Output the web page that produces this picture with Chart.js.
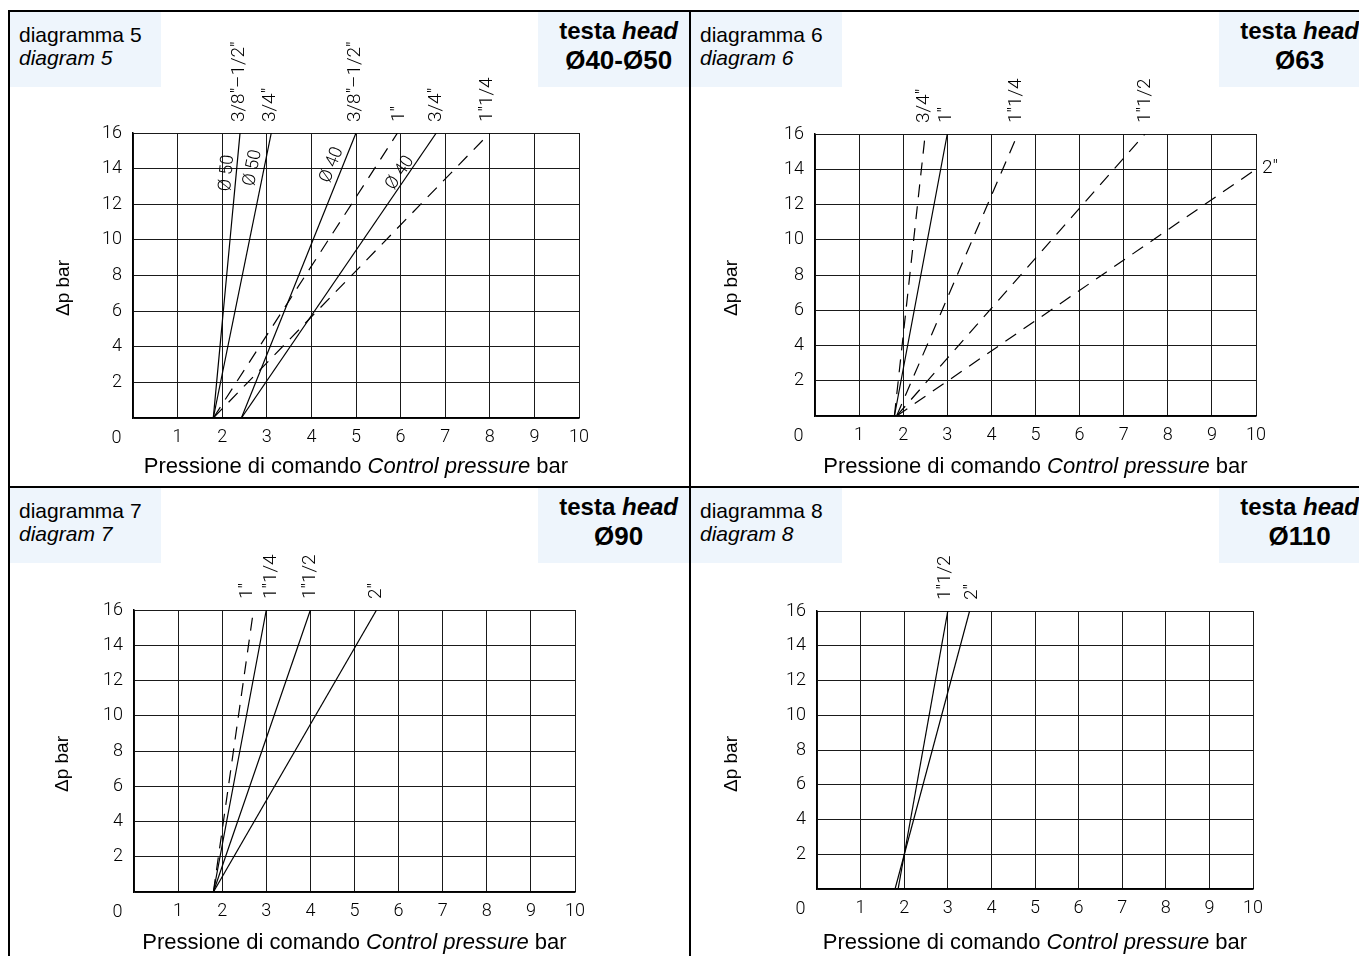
<!DOCTYPE html>
<html>
<head>
<meta charset="utf-8">
<script src="https://cdn.jsdelivr.net/npm/chart.js@4.4.1/dist/chart.umd.min.js"></script>
<style>
html,body{margin:0;padding:0;background:#fff;}
body{width:1359px;height:956px;overflow:hidden;position:relative;font-family:"Liberation Sans",Arimo,Arial,sans-serif;color:#000;}
.rule{position:absolute;background:#000;}
.panel{position:absolute;width:679px;height:474px;}
.panel canvas{position:absolute;left:0;top:0;}
.hl{position:absolute;left:0;top:0;width:151px;height:75px;background:#eef5fc;}
.hl div{position:absolute;left:9px;font-size:21px;line-height:23px;white-space:nowrap;}
.hr{position:absolute;left:528px;top:0;width:151px;height:75px;background:#eef5fc;}
.hr .blk{position:absolute;right:11px;top:5px;text-align:center;font-weight:bold;white-space:nowrap;}
.hr .a{font-size:24px;line-height:27px;}
.hr .b{font-size:26px;line-height:30px;margin-top:1px;}
.xt{position:absolute;font-size:22px;line-height:24px;white-space:nowrap;transform:translate(-50%,-50%);}
.yt{position:absolute;font-size:19px;line-height:22px;white-space:nowrap;transform:translate(-50%,-50%) rotate(-90deg);}
</style>
</head>
<body>
<div class="rule" style="left:8px;top:10px;width:1351px;height:2px;"></div>
<div class="rule" style="left:8px;top:10px;width:2px;height:946px;"></div>
<div class="rule" style="left:689px;top:10px;width:2px;height:946px;"></div>
<div class="rule" style="left:8px;top:486px;width:1351px;height:2px;"></div>

<div id="p5" class="panel" style="left:10px;top:12px;"><canvas id="c5" width="679" height="474"></canvas>
  <div class="hl"><div style="top:11px">diagramma 5</div><div style="top:34px"><i>diagram 5</i></div></div>
  <div class="hr"><div class="blk"><div class="a">testa <i>head</i></div><div class="b">Ø40-Ø50</div></div></div>
</div>
<div id="p6" class="panel" style="left:691px;top:12px;"><canvas id="c6" width="679" height="474"></canvas>
  <div class="hl"><div style="top:11px">diagramma 6</div><div style="top:34px"><i>diagram 6</i></div></div>
  <div class="hr"><div class="blk"><div class="a">testa <i>head</i></div><div class="b">Ø63</div></div></div>
</div>
<div id="p7" class="panel" style="left:10px;top:488px;"><canvas id="c7" width="679" height="474"></canvas>
  <div class="hl"><div style="top:11px">diagramma 7</div><div style="top:34px"><i>diagram 7</i></div></div>
  <div class="hr"><div class="blk"><div class="a">testa <i>head</i></div><div class="b">Ø90</div></div></div>
</div>
<div id="p8" class="panel" style="left:691px;top:488px;"><canvas id="c8" width="679" height="474"></canvas>
  <div class="hl"><div style="top:11px">diagramma 8</div><div style="top:34px"><i>diagram 8</i></div></div>
  <div class="hr"><div class="blk"><div class="a">testa <i>head</i></div><div class="b">Ø110</div></div></div>
</div>

<script>
// ---------------- DATA ----------------
const xTicks = [0, 1, 2, 3, 4, 5, 6, 7, 8, 9, 10];        // control pressure, bar
const yTicks = [0, 2, 4, 6, 8, 10, 12, 14, 16];          // Δp, bar
const xTitle = 'Pressione di comando <i>Control pressure</i> bar';
const yTitle = 'Δp bar';

// diagram 5 – head Ø40-Ø50
const d5Labels = ['3/8"–1/2"', '3/4"', '3/8"–1/2"', '1"', '3/4"', '1"1/4'];
const d5Start  = [1.8, 1.8, 2.43, 1.8, 2.43, 1.8];      // control pressure at Δp = 0
const d5End    = [2.4, 3.1, 5.0, 5.93, 6.8, 8.0];       // control pressure at line end
const d5EndDp  = [16, 16, 16, 16, 16, 16];              // Δp at line end
const d5Dashed = [false, false, false, true, false, true];
const d5LabelX = [2.38, 3.08, 4.98, 5.98, 6.8, 7.95];
const d5Heads  = ['Ø 50', 'Ø 50', 'Ø 40', null, 'Ø 40', null];
const d5HeadX  = [2.11, 2.69, 4.46, null, 5.99, null];
const d5HeadY  = [13.75, 14.04, 14.2, null, 13.75, null];

// diagram 6 – head Ø63
const d6Labels = ['3/4"', '1"', '1"1/4', '1"1/2', '2"'];
const d6Start  = [1.8, 1.8, 1.85, 1.85, 1.85];
const d6End    = [2.5, 3.0, 4.6, 7.48, 10];
const d6EndDp  = [16, 16, 16, 16, 14];
const d6Dashed = [true, false, true, true, true];
const d6LabelX = [2.47, 2.97, 4.56, 7.48, null];        // null: label beside the line end

// diagram 7 – head Ø90
const d7Labels = ['1"', '1"1/4', '1"1/2', '2"'];
const d7Start  = [1.8, 1.8, 1.8, 1.8];
const d7End    = [2.71, 3.0, 4.0, 5.5];
const d7EndDp  = [16, 16, 16, 16];
const d7Dashed = [true, false, false, false];
const d7LabelX = [2.56, 3.12, 4.0, 5.5];

// diagram 8 – head Ø110
const d8Labels = ['1"1/2', '2"'];
const d8Start  = [1.86, 1.79];
const d8End    = [3.0, 3.5];
const d8EndDp  = [16, 16];
const d8Dashed = [false, false];
const d8LabelX = [2.95, 3.55];

// ---------------- LAYOUT (panel-relative pixels) ----------------
const layouts = {
  c5: {plot: [123, 121, 569, 406], ytx: 53},
  c6: {plot: [124, 122, 565, 404], ytx: 40},
  c7: {plot: [124, 122, 565, 404], ytx: 52},
  c8: {plot: [126, 123, 562, 401], ytx: 40}
};
const TICK_FONT = {family: 'Roboto, "DejaVu Sans", sans-serif', size: 18, weight: '300'};
const LBL_FONT = '300 19px Roboto, "DejaVu Sans", sans-serif';
const HEAD_FONT = '300 18px Roboto, "DejaVu Sans", sans-serif';

const annotPlugin = {
  id: 'annot',
  afterDatasetsDraw(chart, args, o) {
    const d = o.d;
    const {ctx, chartArea} = chart;
    const xs = chart.scales.x, ys = chart.scales.y;
    ctx.save();
    ctx.fillStyle = '#000';
    // corner "0"
    ctx.font = `${TICK_FONT.weight} ${TICK_FONT.size}px ${TICK_FONT.family}`;
    ctx.textAlign = 'center';
    ctx.textBaseline = 'middle';
    ctx.fillText('0', xs.left - 16.5, chartArea.bottom + 20);
    // size labels
    ctx.font = LBL_FONT;
    d.labels.forEach((t, i) => {
      if (d.labelX[i] == null) {
        ctx.textAlign = 'left';
        ctx.textBaseline = 'middle';
        ctx.fillText(t, xs.getPixelForValue(d.end[i]) + 6, ys.getPixelForValue(d.endDp[i]) - 1);
        return;
      }
      ctx.save();
      ctx.translate(xs.getPixelForValue(d.labelX[i]), chartArea.top - 11);
      ctx.rotate(-Math.PI / 2);
      ctx.textAlign = 'left';
      ctx.textBaseline = 'middle';
      ctx.fillText(t, 0, 0);
      ctx.restore();
    });
    // head diameter labels along lines
    if (d.heads) {
      ctx.font = HEAD_FONT;
      d.heads.forEach((t, i) => {
        if (!t) return;
        const x0 = xs.getPixelForValue(d.start[i]), y0 = ys.getPixelForValue(0);
        const x1 = xs.getPixelForValue(d.end[i]), y1 = ys.getPixelForValue(d.endDp[i]);
        const ang = Math.atan2(y1 - y0, x1 - x0);
        ctx.save();
        ctx.translate(xs.getPixelForValue(d.headX[i]), ys.getPixelForValue(d.headY[i]));
        ctx.rotate(ang);
        ctx.textAlign = 'center';
        ctx.textBaseline = 'middle';
        ctx.fillText(t, 0, 0);
        ctx.restore();
      });
    }
    ctx.restore();
  }
};

function build(id, d) {
  const L = layouts[id];
  const [pl, pt, pr, pb] = L.plot;
  const W = 679, H = 474;
  const datasets = d.labels.map((name, i) => ({
    label: name,
    data: [{x: d.start[i], y: 0}, {x: d.end[i], y: d.endDp[i]}],
    borderColor: '#000',
    borderWidth: 1.2,
    borderDash: d.dashed[i] ? [13, 9] : [],
    pointRadius: 0,
    showLine: true,
    fill: false,
    tension: 0
  }));
  new Chart(document.getElementById(id), {
    type: 'scatter',
    data: {datasets},
    options: {
      responsive: false,
      animation: false,
      events: [],
      layout: {padding: {left: 0, top: pt, right: W - pr, bottom: 0}},
      plugins: {legend: {display: false}, tooltip: {enabled: false}, annot: {d}},
      scales: {
        x: {
          type: 'linear', min: 0, max: 10,
          afterBuildTicks: s => { s.ticks = xTicks.map(v => ({value: v})); },
          afterFit: s => { s.height = H - pb; },
          grid: {color: '#1a1a1a', lineWidth: 1, drawTicks: false},
          border: {display: true, color: '#000', width: 1.5},
          ticks: {padding: 9, color: '#000', font: TICK_FONT, maxRotation: 0,
                  callback: v => (v === 0 ? '' : String(v))}
        },
        y: {
          type: 'linear', min: 0, max: 16,
          afterBuildTicks: s => { s.ticks = yTicks.map(v => ({value: v})); },
          afterFit: s => { s.width = pl; },
          grid: {color: '#1a1a1a', lineWidth: 1, drawTicks: false},
          border: {display: true, color: '#000', width: 1.5},
          ticks: {padding: 11, color: '#000', font: TICK_FONT,
                  callback: v => (v === 0 ? '' : String(v))}
        }
      }
    },
    plugins: [annotPlugin]
  });
  const panel = document.getElementById(id).parentNode;
  const xt = document.createElement('div');
  xt.className = 'xt';
  xt.innerHTML = xTitle;
  xt.style.left = ((pl + pr) / 2) + 'px';
  xt.style.top = '454px';
  panel.appendChild(xt);
  const yt = document.createElement('div');
  yt.className = 'yt';
  yt.textContent = yTitle;
  yt.style.left = L.ytx + 'px';
  yt.style.top = '276px';
  panel.appendChild(yt);
}

build('c5', {labels: d5Labels, start: d5Start, end: d5End, endDp: d5EndDp, dashed: d5Dashed,
             labelX: d5LabelX, heads: d5Heads, headX: d5HeadX, headY: d5HeadY});
build('c6', {labels: d6Labels, start: d6Start, end: d6End, endDp: d6EndDp, dashed: d6Dashed, labelX: d6LabelX});
build('c7', {labels: d7Labels, start: d7Start, end: d7End, endDp: d7EndDp, dashed: d7Dashed, labelX: d7LabelX});
build('c8', {labels: d8Labels, start: d8Start, end: d8End, endDp: d8EndDp, dashed: d8Dashed, labelX: d8LabelX});
</script>
</body>
</html>
